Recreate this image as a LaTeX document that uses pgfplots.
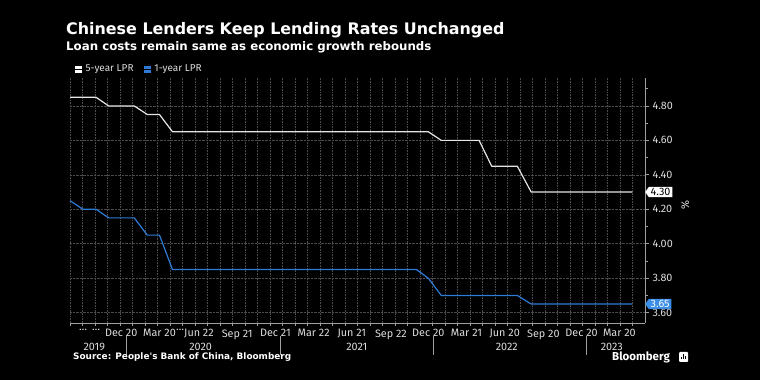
\documentclass[border=0pt]{standalone}
\usepackage{fontspec}
\setmainfont{Fira Sans}
\newfontfamily\headfont{DejaVu Sans}
\usepackage{pgfplots}
\pgfplotsset{compat=1.18}
\usepackage{pgfplotstable}
\usetikzlibrary{shapes.symbols}

\definecolor{lprblue}{HTML}{2E7BD6}
\definecolor{tagblue}{HTML}{3A8EE8}
\definecolor{gridc}{HTML}{4A4A4A}
\definecolor{txtc}{HTML}{DCDCDC}
\definecolor{axc}{HTML}{A0A0A0}

% days since 2019-08-20, 5-year LPR, 1-year LPR
\pgfplotstableread{
d five one
0 4.85 4.25
31 4.85 4.20
62 4.85 4.20
92 4.80 4.15
122 4.80 4.15
153 4.80 4.15
184 4.75 4.05
213 4.75 4.05
244 4.65 3.85
274 4.65 3.85
307 4.65 3.85
335 4.65 3.85
366 4.65 3.85
398 4.65 3.85
427 4.65 3.85
458 4.65 3.85
489 4.65 3.85
519 4.65 3.85
550 4.65 3.85
580 4.65 3.85
609 4.65 3.85
639 4.65 3.85
671 4.65 3.85
700 4.65 3.85
731 4.65 3.85
764 4.65 3.85
792 4.65 3.85
825 4.65 3.85
853 4.65 3.80
884 4.60 3.70
916 4.60 3.70
944 4.60 3.70
974 4.60 3.70
1004 4.45 3.70
1035 4.45 3.70
1065 4.45 3.70
1098 4.30 3.65
1127 4.30 3.65
1157 4.30 3.65
1189 4.30 3.65
1218 4.30 3.65
1249 4.30 3.65
1280 4.30 3.65
1308 4.30 3.65
1339 4.30 3.65
}\lpr

\begin{document}
\begin{tikzpicture}
\fill[black] (0pt,0pt) rectangle (760pt,380pt);

\node[anchor=base west, inner sep=0pt, text=white, font=\headfont\fontsize{15.9}{18}\selectfont\bfseries] at (66pt,345pt) {Chinese Lenders Keep Lending Rates Unchanged};
\node[anchor=base west, inner sep=0pt, text=white, font=\headfont\fontsize{11.8}{14}\selectfont\bfseries] at (66pt,329.5pt) {Loan costs remain same as economic growth rebounds};

\begin{axis}[
  at={(70pt,57pt)}, anchor=south west,
  width=575pt, height=245pt, scale only axis,
  xmin=0, xmax=1369, ymin=3.54, ymax=4.962,
  axis x line*=bottom, axis y line*=right,
  axis line style={draw=axc, line width=0.8pt},
  clip=false,
  tick align=outside,
  major tick length=4pt, minor tick length=2.5pt,
  every tick/.style={draw=axc, line width=0.7pt},
  xtick={31,62,122,213,262,307,398,489,580,671,764,853,944,1035,1127,1218,1308},
  xticklabels={…,…,Dec 20,Mar 20,…,Jun 22,Sep 21,Dec 21,Mar 22,Jun 21,Sep 22,Dec 20,Mar 21,Jun 20,Sep 20,Dec 20,Mar 20},
  major x tick style={draw=none},
  minor xtick={0,29.766,...,1370},
  xminorgrids=true, xmajorgrids=false,
  ytick={3.6,3.8,4.0,4.2,4.4,4.6,4.8},
  minor ytick={3.7,3.9,4.1,4.3,4.5,4.7,4.9},
  ymajorgrids=true,
  grid style={densely dotted, draw=gridc, line width=0.6pt},
  minor grid style={densely dotted, draw=gridc, line width=0.6pt},
  yticklabel style={/pgf/number format/.cd, fixed, fixed zerofill, precision=2, assume math mode=true},
  ticklabel style={text=txtc, font=\fontsize{10.8}{12}\selectfont},
  xticklabel style={yshift=1pt},
  ylabel={\%}, ylabel style={text=txtc, font=\fontsize{11}{12}\selectfont, at={(axis description cs:1.057,0.48)}, rotate=180},
  legend style={at={(axis description cs:0,1)}, anchor=west, yshift=9pt, xshift=5pt, draw=none, fill=none, inner sep=0pt, text=txtc, font=\fontsize{10}{11}\selectfont, legend columns=2, /tikz/every even column/.append style={column sep=9pt}, nodes={inner sep=1.5pt}},
  legend image code/.code={},
]
\addlegendimage{legend image code/.code={\fill[white] (0pt,-3pt) rectangle (6pt,3pt); \path (0pt,0pt) -- (8.5pt,0pt);}}
\addlegendentry{5-year LPR}
\addlegendimage{legend image code/.code={\fill[lprblue] (0pt,-3pt) rectangle (6pt,3pt); \path (0pt,0pt) -- (8.5pt,0pt);}}
\addlegendentry{1-year LPR}

\addplot[forget plot, draw=white!90!black, line width=1.2pt, line join=round] table[x=d, y=five] {\lpr};
\addplot[forget plot, draw=lprblue, line width=1.2pt, line join=round] table[x=d, y=one] {\lpr};

\node[signal, signal to=west, signal pointer angle=110, fill=white, text=black, anchor=west, inner xsep=1.8pt, inner ysep=1.4pt, font=\fontsize{10.8}{12}\selectfont] at (axis cs:1369,4.30) {4.30};
\node[signal, signal to=west, signal pointer angle=110, fill=tagblue, text=white, anchor=west, inner xsep=1.8pt, inner ysep=1.4pt, font=\fontsize{10.8}{12}\selectfont] at (axis cs:1369,3.65) {3.65};

\pgfplotsinvokeforeach{134,500,865,1230}{
  \draw[axc, line width=0.6pt] ([yshift=-13pt]axis cs:#1,3.54) -- ([yshift=-32pt]axis cs:#1,3.54);
}
\node[text=txtc, font=\fontsize{10.8}{12}\selectfont] at ([yshift=-24pt]axis cs:58,3.54) {2019};
\node[text=txtc, font=\fontsize{10.8}{12}\selectfont] at ([yshift=-24pt]axis cs:311,3.54) {2020};
\node[text=txtc, font=\fontsize{10.8}{12}\selectfont] at ([yshift=-24pt]axis cs:683,3.54) {2021};
\node[text=txtc, font=\fontsize{10.8}{12}\selectfont] at ([yshift=-24pt]axis cs:1040,3.54) {2022};
\node[text=txtc, font=\fontsize{10.8}{12}\selectfont] at ([yshift=-24pt]axis cs:1290,3.54) {2023};
\end{axis}

\node[anchor=base west, inner sep=0pt, text=white, font=\headfont\fontsize{8.9}{11}\selectfont\bfseries] at (73pt,20pt) {Source: People's Bank of China, Bloomberg};
\node[anchor=base west, inner sep=0pt, text=white, font=\fontsize{11.5}{13}\selectfont\bfseries] at (612pt,19.5pt) {Bloomberg};
\fill[white, rounded corners=1pt] (679pt,18pt) rectangle (688pt,28pt);
\fill[black] (681pt,20.5pt) rectangle (682pt,23pt);
\fill[black] (683pt,20.5pt) rectangle (684pt,26pt);
\fill[black] (685pt,20.5pt) rectangle (686pt,24pt);
\end{tikzpicture}
\end{document}
